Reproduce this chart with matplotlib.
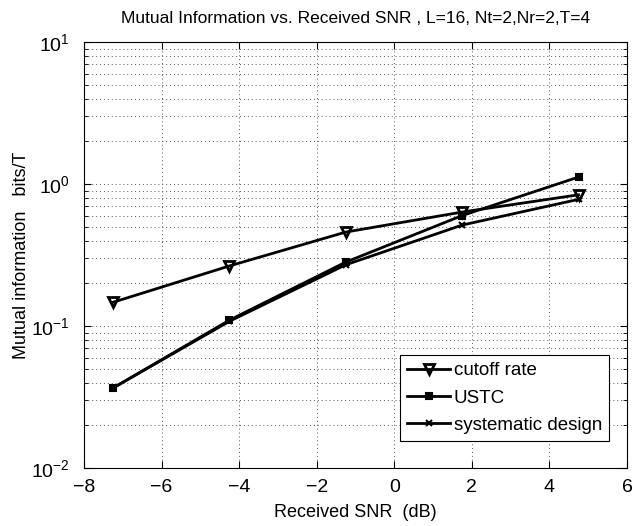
import matplotlib
matplotlib.use("Agg")
import matplotlib.pyplot as plt
from matplotlib.ticker import LogLocator, NullFormatter

plt.rcParams['font.family'] = ['Liberation Sans', 'DejaVu Sans']

snr = [-7.25, -4.25, -1.25, 1.75, 4.75]
cutoff = [0.147, 0.265, 0.459, 0.635, 0.84]
ustc = [0.0366, 0.110, 0.282, 0.60, 1.12]
systematic = [0.0366, 0.108, 0.27, 0.514, 0.78]

fig = plt.figure(figsize=(6.33, 5.26), dpi=100)
ax = fig.add_axes([0.1327, 0.1103, 0.8578, 0.8097])

ax.plot(snr, cutoff, '-v', color='black', lw=2, ms=7, mfc='none', mew=2, label='cutoff rate')
ax.plot(snr, ustc, '-s', color='black', lw=2, ms=5, mfc='black', mew=1.5, label='USTC')
ax.plot(snr, systematic, '-x', color='black', lw=2, ms=4, mew=1.5, label='systematic design')

ax.set_yscale('log')
ax.set_xlim(-8, 6)
ax.set_ylim(1e-2, 1e1)
ax.set_xticks([-8, -6, -4, -2, 0, 2, 4, 6])
ax.set_xticklabels(['\u22128', '\u22126', '\u22124', '\u22122', '0', '2', '4', '6'])
ax.yaxis.set_major_locator(LogLocator(base=10, numticks=10))
ax.yaxis.set_minor_locator(LogLocator(base=10, subs=range(2, 10), numticks=10))
ax.yaxis.set_minor_formatter(NullFormatter())

ax.grid(True, which='major', axis='both', linestyle=(0, (1, 3)), color='#555555', lw=0.7)
ax.grid(True, which='minor', axis='y', linestyle=(0, (1, 3)), color='#555555', lw=0.7)

ax.tick_params(which='both', direction='in', top=True, right=True, labelsize=14)
ax.tick_params(which='major', length=5)
ax.tick_params(which='minor', length=3)
ax.tick_params(axis='x', pad=8)
ax.tick_params(axis='y', pad=10)
for s in ax.spines.values():
    s.set_linewidth(0.8)

ax.set_title('Mutual Information vs. Received SNR , L=16, Nt=2,Nr=2,T=4', fontsize=12.5, pad=14)
ax.set_xlabel('Received SNR  (dB)', fontsize=13, labelpad=6)
ax.set_ylabel('Mutual information   bits/T', fontsize=13, labelpad=1)

leg = ax.legend(loc='lower right', bbox_to_anchor=(0.97, 0.06), fontsize=13.5, frameon=True,
                fancybox=False, edgecolor='black', framealpha=1, handlelength=2.3,
                borderpad=0.35, labelspacing=0.55, handletextpad=0.2, borderaxespad=0.1)
leg.get_frame().set_linewidth(0.8)

fig.savefig('out.png', dpi=100)
